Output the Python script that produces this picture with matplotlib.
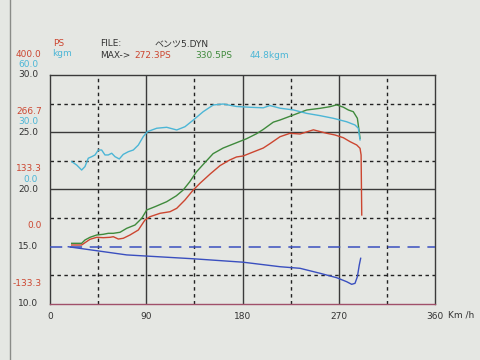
import matplotlib.pyplot as plt
from matplotlib.lines import Line2D

# speed axis values (km/h) and readings taken off the dyno sheet
red_speed = [20.3, 29.6, 32.7, 37.4, 43.7, 49.8, 56.1, 59.2, 63.9, 68.5, 74.8, 82.6, 88.8,
             93.5, 102.9, 112.2, 118.5, 126.2, 133.8, 140.3, 150.0, 159.0, 168.0, 174.4,
             180.6, 190.0, 199.4, 205.6, 215.1, 224.4, 233.8, 246.3, 258.8, 266.5, 274.3,
             280.6, 286.8, 289.9, 290.9, 291.5]
red_ps = [4.1, 4.1, 9.4, 17.3, 22.0, 21.1, 22.0, 23.4, 18.0, 19.7, 27.4, 39.0, 62.3,
          70.0, 77.9, 81.6, 89.5, 108.9, 131.8, 148.0, 170.0, 189.0, 202.0, 209.1,
          211.4, 220.7, 229.9, 240.0, 256.3, 264.2, 262.6, 272.3, 264.2, 260.3, 253.9,
          244.7, 237.0, 229.3, 213.7, 74.0]

green_speed = [20.3, 29.6, 32.7, 37.4, 43.7, 49.8, 54.5, 59.2, 65.5, 71.7, 79.5, 85.8, 90.4,
               98.2, 109.1, 118.1, 124.4, 130.6, 136.9, 143.1, 152.5, 161.9, 174.4, 183.8,
               193.1, 199.4, 208.8, 215.1, 227.5, 240.0, 252.5, 261.8, 268.0, 274.3, 279.0,
               283.6, 287.4, 288.7, 289.9]
green_ps = [8.0, 8.0, 15.7, 22.0, 27.4, 29.0, 31.3, 31.3, 33.7, 42.9, 50.7, 66.3, 85.6,
            93.3, 104.9, 118.6, 131.8, 151.1, 174.3, 191.3, 216.8, 229.9, 242.3, 251.6,
            263.2, 273.2, 290.2, 295.2, 306.8, 318.5, 322.4, 326.2, 330.5, 325.0, 318.5,
            314.5, 299.2, 275.9, 252.6]

cyan_speed = [20.3, 25.0, 29.6, 32.7, 35.8, 39.0, 42.1, 45.2, 48.3, 51.4, 54.5, 57.7, 60.8,
              64.8, 68.5, 73.2, 77.9, 82.6, 87.2, 91.0, 99.8, 109.1, 118.5, 126.2, 134.0,
              143.3, 152.7, 161.9, 174.4, 186.9, 199.4, 205.6, 215.1, 227.5, 240.0, 252.5,
              265.0, 277.4, 285.2, 288.3, 289.2, 289.9]
cyan_kgm = [14.6, 12.8, 10.2, 12.0, 16.4, 17.2, 18.1, 20.7, 20.7, 18.1, 18.1, 19.0, 17.2,
            16.0, 18.4, 19.8, 20.7, 23.3, 27.7, 30.3, 32.1, 32.6, 31.2, 32.9, 36.4,
            40.8, 44.3, 44.8, 43.5, 43.1, 42.8, 44.0, 42.6, 41.7, 39.9, 38.7,
            37.3, 35.5, 33.8, 32.1, 28.6, 26.0]

blue_speed = [17.1, 71.7, 134.0, 180.6, 215.1, 233.8, 252.5, 268.1, 277.4, 282.1, 285.2,
              287.4, 289.2, 290.5]
blue_ps = [0.0, -19.0, -28.0, -36.0, -46.5, -50.2, -61.8, -72.1, -81.4, -87.5, -85.2,
           -69.8, -42.5, -26.9]

x_ticks = [0, 90, 180, 270, 360]
base_ticks = [30, 25, 20, 15, 10]
ps_labels = ["400.0", "266.7", "133.3", "0.0", "-133.3"]
kgm_labels = ["60.0", "30.0", "0.0", "", ""]

RED = "#cc4630"
GREEN = "#3f8a3c"
CYAN = "#4cb6d6"
BLUE = "#3a4fbf"
INK = "#333333"
BG = "#e5e7e3"

fig = plt.figure(figsize=(4.8, 3.6), dpi=100, facecolor=BG)
ax = fig.add_axes([50 / 480, 1 - 304 / 360, 385 / 480, 229 / 360], facecolor=BG)
ax.set_xlim(0, 360)
ax.set_ylim(10, 30)

# twin scales: PS (-133.3..400) and kgm (-60..60) share the grid
ax_ps = ax.twinx()
ax_ps.set_ylim(-133.33, 400)
ax_kgm = ax.twinx()
ax_kgm.set_ylim(-60, 60)
for a in (ax_ps, ax_kgm):
    a.set_yticks([])
    for s in a.spines.values():
        s.set_visible(False)

# grid
for x in [90, 180, 270]:
    ax.axvline(x, color="#3a3a3a", lw=1.0)
for x in [45, 135, 225, 315]:
    ax.axvline(x, color="#222222", lw=1.0, ls=(0, (2.5, 2.5)))
for y in [25, 20]:
    ax.axhline(y, color="#3a3a3a", lw=1.0)
for y in [27.5, 22.5, 17.5, 12.5]:
    ax.axhline(y, color="#222222", lw=1.0, ls=(0, (2.5, 2.5)))

for name, s in ax.spines.items():
    s.set_color("#3a3a3a")
    s.set_linewidth(1.0)
ax.spines["bottom"].set_color("#a0506a")

# curves
ax_ps.axhline(0, color=BLUE, lw=1.1, ls=(0, (8, 5)))
ax_ps.plot(blue_speed, blue_ps, color=BLUE, lw=1.0)
ax_kgm.plot(cyan_speed, cyan_kgm, color=CYAN, lw=1.0)
ax_ps.plot(green_speed, green_ps, color=GREEN, lw=1.0)
ax_ps.plot(red_speed, red_ps, color=RED, lw=1.0)

# ticks
fs = 6.5
ax.set_xticks(x_ticks)
ax.set_xticklabels([str(v) for v in x_ticks], fontsize=fs, color=INK)
ax.tick_params(axis="x", length=0, pad=6)
ax.set_yticks([])
for b, p, k in zip(base_ticks, ps_labels, kgm_labels):
    ax.annotate(f"{b:.1f}", xy=(0, b), xycoords=("axes fraction", "data"),
                xytext=(-8.5, 0), textcoords="offset points", ha="right", va="center",
                fontsize=fs, color=INK)
    ax.annotate(p, xy=(0, b), xycoords=("axes fraction", "data"),
                xytext=(-6, 15), textcoords="offset points", ha="right", va="center",
                fontsize=fs, color=RED)
    if k:
        ax.annotate(k, xy=(0, b), xycoords=("axes fraction", "data"),
                    xytext=(-8.5, 7.5), textcoords="offset points", ha="right", va="center",
                    fontsize=fs, color=CYAN)

ax.annotate("Km /h", xy=(1, 0), xycoords="axes fraction", xytext=(9, -8),
            textcoords="offset points", ha="left", va="center", fontsize=fs, color=INK)

# header
def put(x, y, s, c):
    fig.text(x / 480, 1 - y / 360, s, fontsize=fs, color=c, va="center", ha="left",
             family=["DejaVu Sans", "Noto Sans CJK JP"])

put(53, 44, "PS", RED)
put(52, 54, "kgm", CYAN)
put(100, 44, "FILE:", INK)
put(155, 44, "ベンツ5.DYN", INK)
put(100, 55, "MAX->", INK)
put(134, 55, "272.3PS", RED)
put(195, 55, "330.5PS", GREEN)
put(250, 55, "44.8kgm", CYAN)

# edge of the sheet in the photo
fig.add_artist(Line2D([10 / 480, 10 / 480], [0, 1], color="#8a8c88", lw=1.0))

fig.savefig("out.png", dpi=100, facecolor=BG)
